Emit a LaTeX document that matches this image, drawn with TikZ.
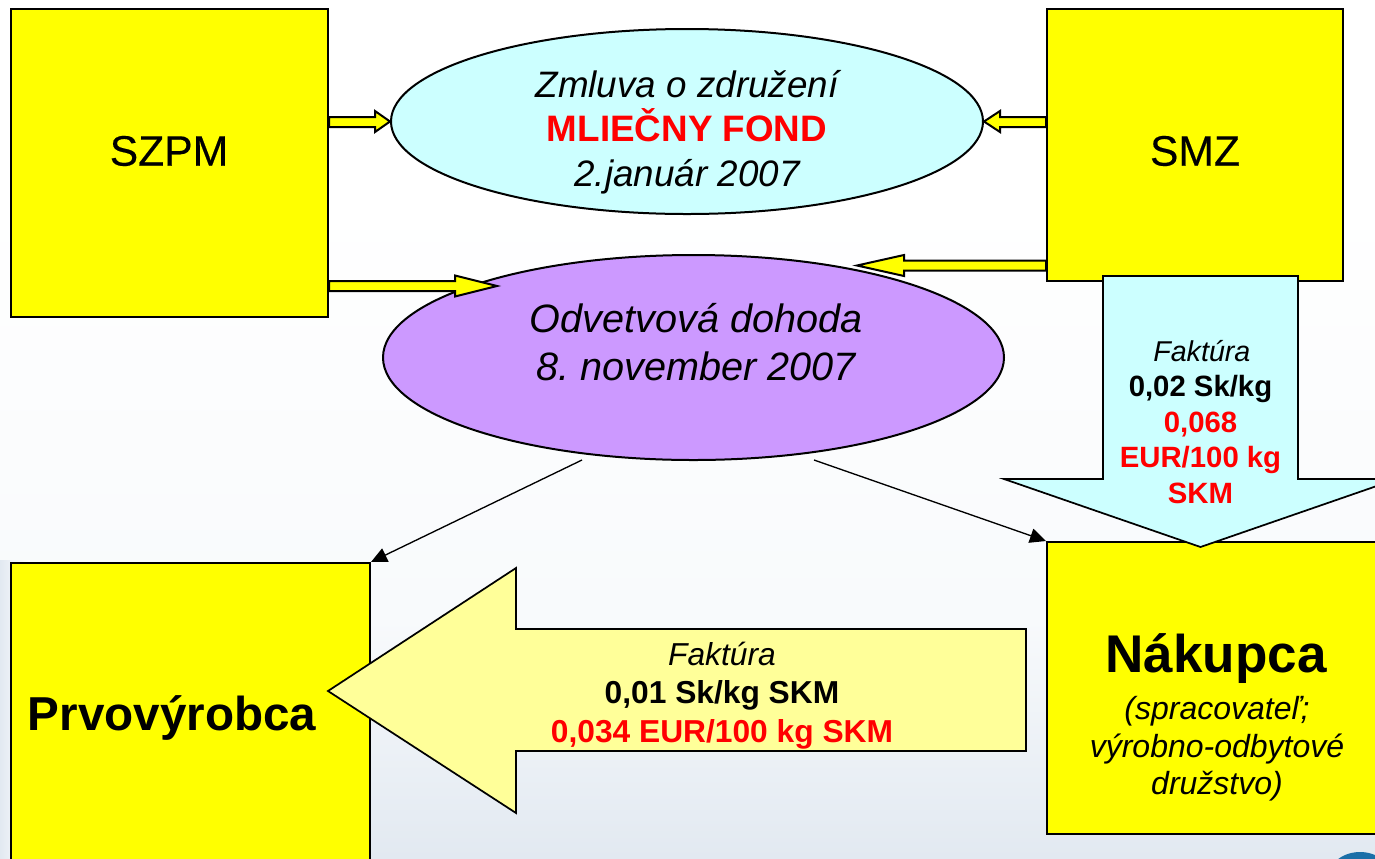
\documentclass[tikz,border=0pt]{standalone}
\usepackage{fontspec}
\setmainfont{Liberation Sans}
\newfontfamily\fakeb[FakeBold=0.3]{Liberation Sans}
\usetikzlibrary{arrows.meta,shapes.geometric,calc}
\definecolor{ycol}{HTML}{FFFF00}
\definecolor{lycol}{HTML}{FFFF99}
\definecolor{ccol}{HTML}{CCFFFF}
\definecolor{pcol}{HTML}{CC99FF}
\definecolor{rcol}{HTML}{FF0000}
\definecolor{bgb}{HTML}{E2E9F1}
\definecolor{bgm}{HTML}{F8FAFC}
\definecolor{logob}{HTML}{1A6FA8}
\newcommand{\fs}[2]{\fontsize{#1}{#2}\selectfont}
\frenchspacing
\tikzset{
  x=0.75pt,y=-0.75pt,
  boxn/.style={draw=black,line width=1.5pt,fill=ycol,rectangle,inner sep=0pt,anchor=north west},
  ell/.style={draw=black,line width=1.5pt,ellipse,inner sep=0pt,align=center},
  blk/.style={draw=black,line width=1.5pt,fill=ycol,line join=miter},
  big/.style={draw=black,line width=1.3pt,line join=miter},
  thinarrow/.style={draw=black,line width=1pt,-{Triangle[length=12pt,width=11pt]}},
  txt/.style={inner sep=0pt,align=center,text=black}
}
% #1 start coordinate, #2 tip coordinate, #3 signed head length
\newcommand{\blockarrow}[3]{%
  \draw[blk] ($(#1)+(0,-5)$) -- ($(#2 |- #1)+(#3,-5)$) -- ($(#2)+(#3,-10.5)$) -- (#2) -- ($(#2)+(#3,10.5)$) -- ($(#2 |- #1)+(#3,5)$) -- ($(#1)+(0,5)$) -- cycle;}
\begin{document}
\begin{tikzpicture}
\path[use as bounding box] (0,0) rectangle (1375,858);
\clip (0,0) rectangle (1375,858);
\fill[white] (0,0) rectangle (1375,858);
\shade[top color=white,bottom color=bgm] (0,200) rectangle (1375,620);
\shade[top color=bgm,bottom color=bgb] (0,620) rectangle (1375,858);
\shade[left color=bgb,right color=bgb!0] (0,560) rectangle (30,858);
\fill[logob] (1360,880) ellipse [x radius=33,y radius=28];
\fill[bgm] (1360,884) ellipse [x radius=26,y radius=24];

% ellipses
\node[ell,fill=ccol,minimum width=444pt,minimum height=138.75pt] (zml) at (687,121.5) {};
\node[txt,font=\fs{27.6}{33.3}\itshape] (zmlt) at (687,132)
  {Zmluva o združení\\
   {\upshape\bfseries\color{rcol} MLIEČNY FOND}\\
   2.január 2007};
\node[ell,fill=pcol,minimum width=465.75pt,minimum height=153.75pt] (odv) at (693.5,357.5) {};
\node[txt,font=\fs{29.7}{36}\itshape] (odvt) at (696,342) {Odvetvová dohoda\\8. november 2007};

% boxes
\node[boxn,minimum width=237.75pt,minimum height=231pt] (szpm) at (10,8) {};
\node[boxn,minimum width=222pt,minimum height=204pt] (smz) at (1046,8) {};
\node[boxn,minimum width=269.25pt,minimum height=240pt] (prv) at (10,562) {};
\node[boxn,minimum width=253.5pt,minimum height=219pt] (nak) at (1046,541) {};

% yellow block arrows
\coordinate (a1s) at (szpm.east |- 0,122);
\coordinate (a1t) at (zml.west);
\blockarrow{a1s}{a1t}{-15}
\coordinate (a2s) at (szpm.east |- 0,286);
\coordinate (a2t) at (497,286);
\blockarrow{a2s}{a2t}{-42}
\coordinate (a3s) at (smz.west |- 0,122);
\coordinate (a3t) at (zml.east);
\blockarrow{a3s}{a3t}{16}
\coordinate (a4s) at (smz.west |- 0,265.5);
\coordinate (a4t) at (857,265.5);
\blockarrow{a4s}{a4t}{47}

% big arrows
\draw[big,fill=ccol] (1103,276) -- (1298,276) -- (1298,479) -- (1397,479) -- (1200.5,547) -- (1004,479) -- (1103,479) -- cycle;
\draw[big,fill=lycol] (1026,629) -- (516,629) -- (516,568) -- (328,691) -- (516,813) -- (516,751) -- (1026,751) -- cycle;

% thin connectors
\coordinate (o1) at (582,460);
\coordinate (o2) at (814,460);
\draw[thinarrow] (o1) -- (prv.north east);
\draw[thinarrow] (o2) -- (nak.north west);

% labels
\node[txt,font=\fs{32}{38}\fakeb] (szpmt) at (169,151) {SZPM};
\node[txt,font=\fs{32}{38}\fakeb] (smzt) at (1195,151) {SMZ};
\node[txt,font=\fs{35.7}{42}\bfseries] (prvt) at (172,718) {Prvovýrobca};
\node[txt,font=\fs{39.8}{46}\bfseries] (nakt) at (1216,659) {Nákupca};
\node[txt,font=\fs{24}{28}\itshape] (nakb) at (1217,749) {(spracovateľ;\\výrobno-odbytové\\družstvo)};
\node[txt,font=\fs{22}{26.6}\bfseries] (f1) at (1200.5,422) {{\mdseries\itshape\fs{21.5}{26.6}\hspace*{2pt}Faktúra}\\0,02 Sk/kg\\{\color{rcol}0,068}\\{\color{rcol}EUR/100 kg}\\{\color{rcol}SKM}};
\node[txt,font=\fs{23.8}{29}\bfseries] (f2) at (722,695.5) {{\mdseries\itshape Faktúra}\\0,01 Sk/kg SKM\\{\color{rcol}0,034 EUR/100 kg SKM}};
\end{tikzpicture}
\end{document}
